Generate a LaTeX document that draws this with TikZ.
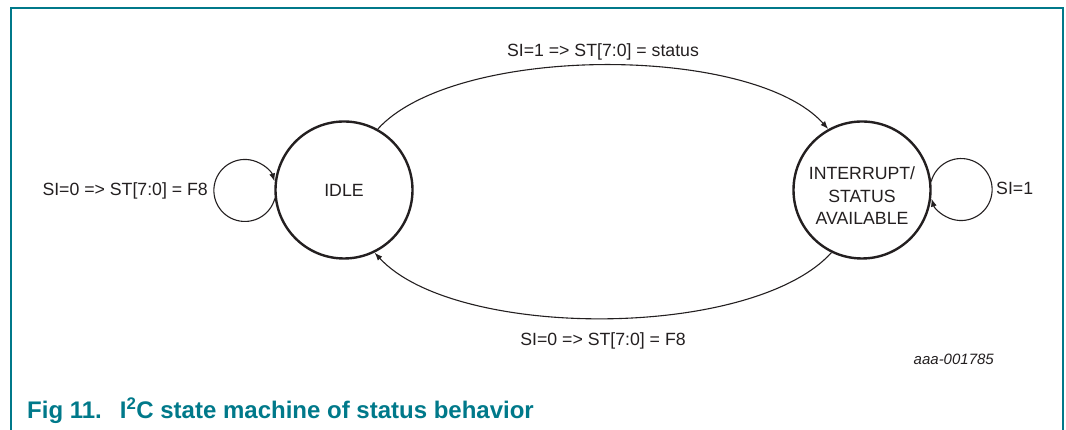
\documentclass[tikz,border=0pt]{standalone}
\usepackage{fontspec}
\setmainfont{Liberation Sans}
\usetikzlibrary{arrows.meta}
\definecolor{nxpteal}{RGB}{0,121,138}
\definecolor{ink}{RGB}{35,31,32}
\begin{document}
\begin{tikzpicture}[x=1pt,y=1pt,
  state/.style={draw=ink,circle,line width=2.4pt,minimum size=137pt,inner sep=0pt,
    align=center,font=\fontsize{17.7}{22.5}\selectfont,text=ink},
  trans/.style={draw=ink,line width=1.1pt,-{Latex[length=8pt,width=6pt]}},
  lbl/.style={font=\fontsize{17.7}{20.5}\selectfont,text=ink,inner sep=0pt},
  tag/.style={font=\fontsize{15}{18}\selectfont\itshape,text=ink,inner sep=0pt},
  caption/.style={font=\fontsize{24}{27}\selectfont\bfseries,text=nxpteal,inner sep=0pt}]
\useasboundingbox (0,0) rectangle (1066,430);
% frame
\draw[nxpteal,line width=2pt] (11,0) -- (11,422) -- (1063,422) -- (1063,0);
% states
\node[state] (idle) at (344,240) {IDLE};
\node[state] (int) at (862,240) {\raisebox{-8pt}[\height][\depth]{\begin{tabular}{@{}c@{}}INTERRUPT/\\STATUS\\AVAILABLE\end{tabular}}};
% transitions between states
\draw[trans] (idle.61) .. controls (455,386) and (752,386) .. (int.119);
\draw[trans] (int.244) .. controls (752,90) and (455,90) .. (idle.296);
% self loops
\draw[trans] (idle.187) arc[start angle=-15,end angle=-343,radius=31];
\draw[trans] (int.7) arc[start angle=165,end angle=-163,radius=31];
% labels
\node[lbl,anchor=base] (ltop) at (603,373) {SI=1 => ST[7:0] = status};
\node[lbl,anchor=base] (lbot) at (603,84) {SI=0 => ST[7:0] = F8};
\node[lbl,anchor=base east] (lleft) at (208,234) {SI=0 => ST[7:0] = F8};
\node[lbl,anchor=base west] (lright) at (996,235) {SI=1};
\node[tag,anchor=base east] (code) at (994,65) {aaa-001785};
\node[caption,anchor=base west] (cap) at (27,11) {Fig 11.\hspace{18pt}I\textsuperscript{2}C state machine of status behavior};
\end{tikzpicture}
\end{document}
